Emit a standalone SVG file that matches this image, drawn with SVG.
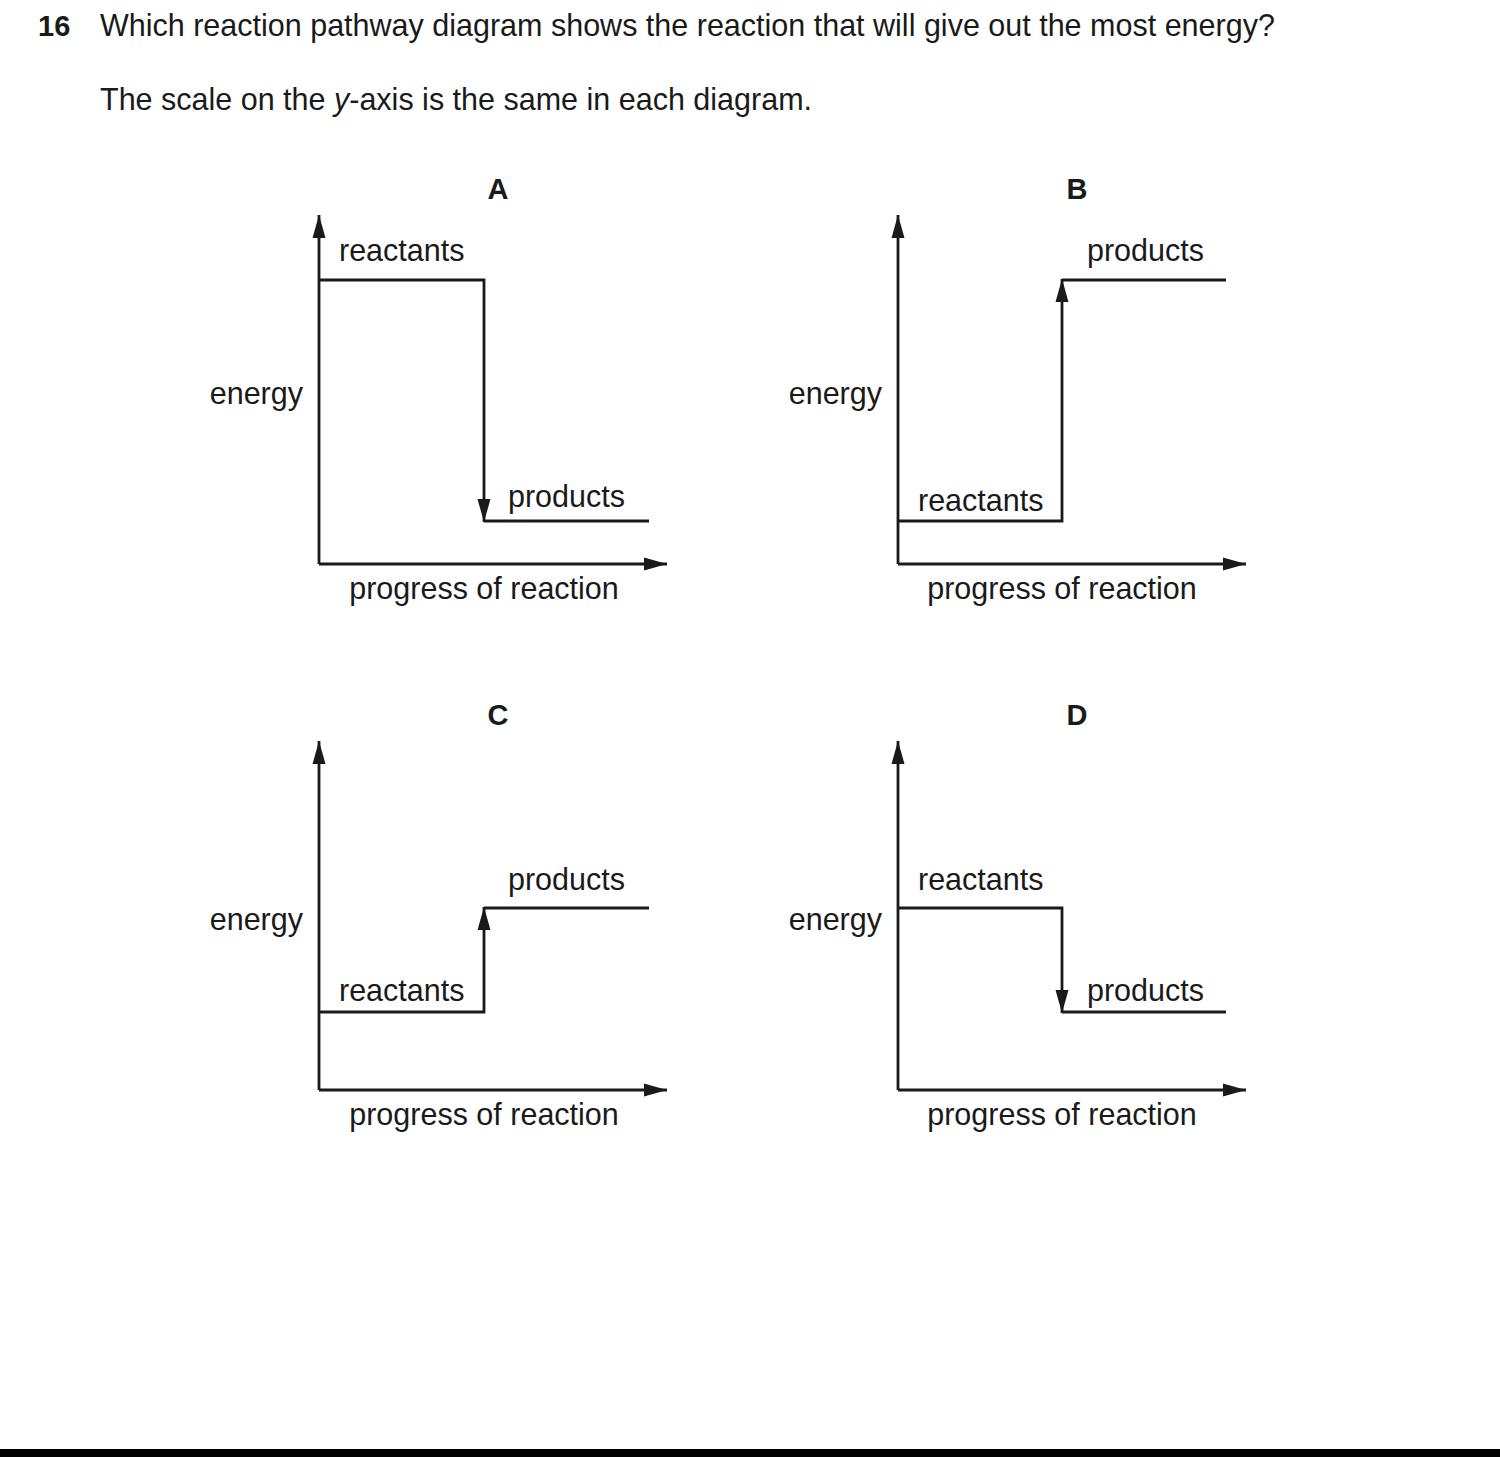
<svg xmlns="http://www.w3.org/2000/svg" width="1500" height="1457" viewBox="0 0 1500 1457">
<style>
text{font-family:"Liberation Sans",Arial,sans-serif;fill:#1a1a1a;font-size:30.5px}
.b{font-weight:bold;font-size:29px}
.e{text-anchor:end}
.m{text-anchor:middle}
.ln{stroke:#1a1a1a;stroke-width:2.8;fill:none}
</style>
<defs>
<marker id="ah" markerUnits="userSpaceOnUse" markerWidth="27" markerHeight="16" viewBox="-1 -8 27 16" refX="23" refY="0" orient="auto">
<path d="M0,-6.5 L23,0 L0,6.5 z" fill="#1a1a1a"/>
</marker>
</defs>
<rect width="1500" height="1457" fill="#fff"/>
<g id="question">
<text x="38" y="36" class="b">16</text>
<text x="100" y="36">Which reaction pathway diagram shows the reaction that will give out the most energy?</text>
<text x="100" y="110">The scale on the <tspan font-style="italic">y</tspan>-axis is the same in each diagram.</text>
</g>
<g id="diagramA">
<text x="498" y="199" class="b m">A</text>
<text x="339" y="261">reactants</text>
<text x="508" y="507">products</text>
<text x="303" y="404" class="e">energy</text>
<text x="484" y="599" class="m">progress of reaction</text>
</g>
<g id="diagramB">
<text x="1077" y="199" class="b m">B</text>
<text x="1087" y="261">products</text>
<text x="918" y="511">reactants</text>
<text x="882" y="404" class="e">energy</text>
<text x="1062" y="599" class="m">progress of reaction</text>
</g>
<g id="diagramC">
<text x="498" y="725" class="b m">C</text>
<text x="508" y="890">products</text>
<text x="339" y="1001">reactants</text>
<text x="303" y="930" class="e">energy</text>
<text x="484" y="1125" class="m">progress of reaction</text>
</g>
<g id="diagramD">
<text x="1077" y="725" class="b m">D</text>
<text x="918" y="890">reactants</text>
<text x="1087" y="1001">products</text>
<text x="882" y="930" class="e">energy</text>
<text x="1062" y="1125" class="m">progress of reaction</text>
</g>
<g id="connectors">
<path class="ln" d="M319,564 L319,215" marker-end="url(#ah)"/>
<path class="ln" d="M319,564 L667,564" marker-end="url(#ah)"/>
<path class="ln" d="M319,280 L484,280 L484,522" marker-end="url(#ah)"/>
<path class="ln" d="M484,521 L649,521"/>
<path class="ln" d="M898,564 L898,215" marker-end="url(#ah)"/>
<path class="ln" d="M898,564 L1246,564" marker-end="url(#ah)"/>
<path class="ln" d="M898,521 L1062,521 L1062,279" marker-end="url(#ah)"/>
<path class="ln" d="M1062,280 L1226,280"/>
<path class="ln" d="M319,1090 L319,741" marker-end="url(#ah)"/>
<path class="ln" d="M319,1090 L667,1090" marker-end="url(#ah)"/>
<path class="ln" d="M319,1012 L484,1012 L484,907" marker-end="url(#ah)"/>
<path class="ln" d="M484,908 L649,908"/>
<path class="ln" d="M898,1090 L898,741" marker-end="url(#ah)"/>
<path class="ln" d="M898,1090 L1246,1090" marker-end="url(#ah)"/>
<path class="ln" d="M898,908 L1062,908 L1062,1013" marker-end="url(#ah)"/>
<path class="ln" d="M1062,1012 L1226,1012"/>
</g>
<rect x="0" y="1449" width="1500" height="8" fill="#000"/>
</svg>
